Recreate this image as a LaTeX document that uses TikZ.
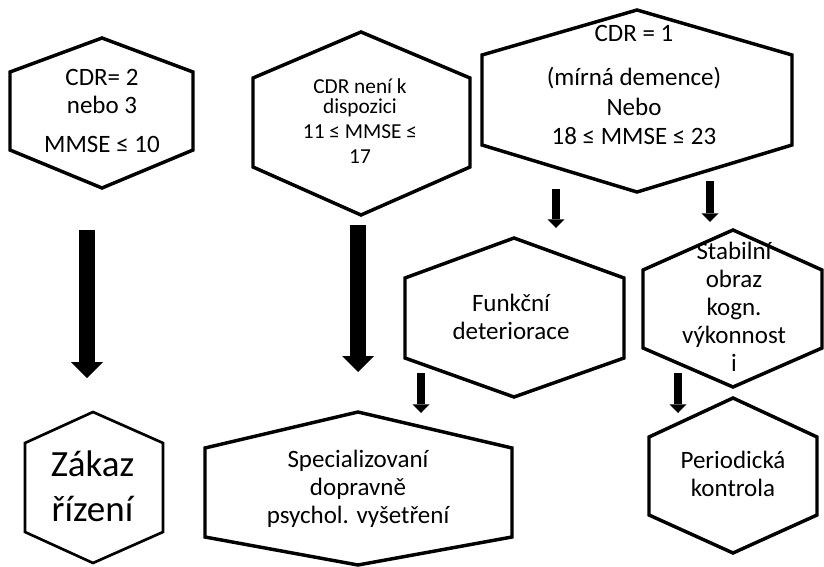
\documentclass[tikz,border=0pt]{standalone}
\usepackage{fontspec}
\setmainfont{Carlito}
\usetikzlibrary{arrows.meta}

\tikzset{
  hexa/.style={line width=2.6pt, line join=miter},
  txt/.style={align=center, inner sep=0pt, font=\fontsize{18.75}{21}\selectfont},
  bigarrow/.style={line width=12pt, -{Triangle[length=12pt, width=24pt, line width=0pt]}},
  smallarrow/.style={line width=6pt, -{Triangle[length=6.5pt, width=12.75pt, line width=0pt]}},
}

\begin{document}
\begin{tikzpicture}[x=0.75pt, y=-0.75pt]
  \useasboundingbox (0,0) rectangle (824,567);

  % Draw the hexagons
  \draw[hexa] (102,38) -- (193,72) -- (193,150) -- (102,188) -- (10,150) -- (10,72) -- cycle;
  \draw[hexa] (361,32) -- (470,78) -- (470,167) -- (361,215) -- (253,167) -- (253,78) -- cycle;
  \draw[hexa] (637,10) -- (792,55) -- (792,145) -- (637,192) -- (482,145) -- (482,55) -- cycle;
  \draw[hexa] (514,238) -- (624,278) -- (624,358) -- (514,397) -- (405,358) -- (405,278) -- cycle;
  \draw[hexa] (733,230) -- (822,270) -- (822,348) -- (733,387) -- (643,348) -- (643,270) -- cycle;
  \draw[hexa, line width=2pt] (93,412) -- (163,443) -- (163,532) -- (93,563) -- (25,532) -- (25,443) -- cycle;
  \draw[hexa] (358,412) -- (512,448) -- (512,537) -- (358,565) -- (205,537) -- (205,448) -- cycle;
  \draw[hexa] (733,398) -- (817,437) -- (817,515) -- (733,553) -- (649,515) -- (649,437) -- cycle;

  % Draw the texts
  \node[txt] (cdrtwo) at (102,110.5) {CDR= 2\\ nebo 3\\[8.25pt] MMSE ≤ 10};
  \node[txt, font=\fontsize{16}{18.75}\selectfont] (cdrna) at (360,121) {CDR není k\\[-3.4pt] dispozici\\ 11 ≤ MMSE ≤\\ 17};
  \node[txt, font=\fontsize{18.75}{22}\selectfont] (cdrone) at (634,85) {CDR = 1\\[11pt] (mírná demence)\\ Nebo\\ 18 ≤ MMSE ≤ 23};
  \node[txt] (funkce) at (511,316.5) {Funkční\\ deteriorace};
  \node[txt] (stabil) at (734,307) {Stabilní\\ obraz\\ kogn.\\ výkonnost\\ i};
  \node[txt, font=\fontsize{27.75}{33.75}\selectfont] (zakaz) at (92.5,486.75) {Zákaz\\ řízení};
  \node[txt] (psych) at (358,488.5) {Specializovaní\\ dopravně\\ psychol. vyšetření};
  \node[txt] (kontrola) at (733,473.5) {Periodická\\ kontrola};

  % Arrow ends
  \coordinate (a1) at (87,230);  \coordinate (a1e) at (87,378);
  \coordinate (a2) at (358,225); \coordinate (a2e) at (358,372);
  \coordinate (a3) at (556,189); \coordinate (a3e) at (556,228);
  \coordinate (a4) at (710,181); \coordinate (a4e) at (710,222);
  \coordinate (a5) at (421,373); \coordinate (a5e) at (421,413);
  \coordinate (a6) at (678,373); \coordinate (a6e) at (678,413);

  % Draw the arrows
  \draw[bigarrow] (a1) -- (a1e);
  \draw[bigarrow] (a2) -- (a2e);
  \draw[smallarrow] (a3) -- (a3e);
  \draw[smallarrow] (a4) -- (a4e);
  \draw[smallarrow] (a5) -- (a5e);
  \draw[smallarrow] (a6) -- (a6e);
\end{tikzpicture}
\end{document}
